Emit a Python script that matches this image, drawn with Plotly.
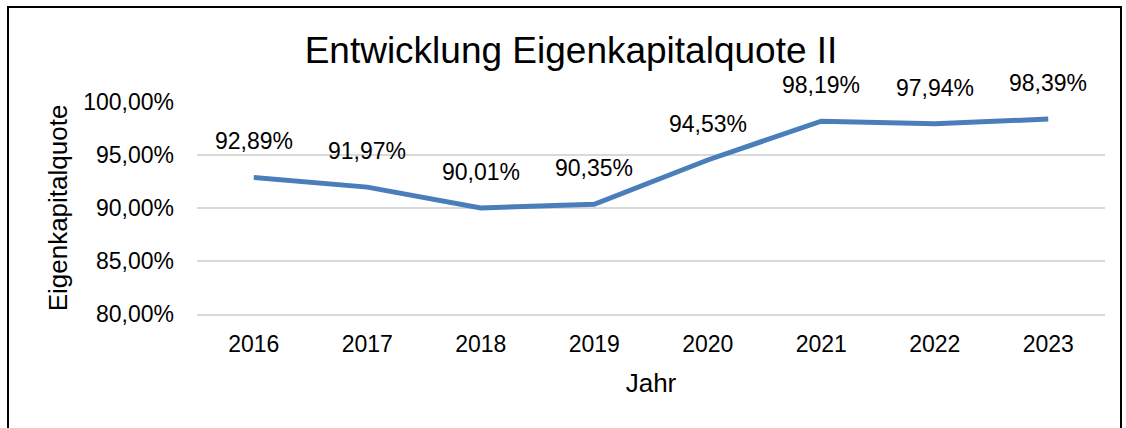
import plotly.graph_objects as go

years = ["2016", "2017", "2018", "2019", "2020", "2021", "2022", "2023"]
quote = [92.89, 91.97, 90.01, 90.35, 94.53, 98.19, 97.94, 98.39]
y_ticks = [80, 85, 90, 95, 100]
y_tick_text = ["80,00%", "85,00%", "90,00%", "95,00%", "100,00%"]
labels = [f"{v:.2f}%".replace(".", ",") for v in quote]

FONT = "Liberation Sans, Arial, sans-serif"
W, H = 1126, 428
L, R, T, B = 197, 21, 102, 114
pw, ph = W - L - R, H - T - B

fig = go.Figure()
fig.add_trace(go.Scatter(
    x=years, y=quote, mode="lines",
    line=dict(color="#4a7ebb", width=5),
    hoverinfo="skip", showlegend=False, cliponaxis=False,
))

for i, (y, t) in enumerate(zip(quote, labels)):
    fig.add_annotation(x=i, y=y, text=t, showarrow=False, yshift=36,
                       font=dict(size=23, color="#000000", family=FONT))

# chart frame
fig.add_shape(type="rect", xref="paper", yref="paper",
              x0=(8 - L) / pw, x1=(1121 - L) / pw,
              y0=(H - B - 440) / ph, y1=(H - B - 7) / ph,
              line=dict(color="#000000", width=2), fillcolor="rgba(0,0,0,0)")

fig.update_layout(
    width=W, height=H,
    margin=dict(l=L, r=R, t=T, b=B, autoexpand=False),
    paper_bgcolor="white", plot_bgcolor="white",
    font=dict(family=FONT, color="#000000"),
    title=dict(text="Entwicklung Eigenkapitalquote II", xref="container", x=571 / W,
               xanchor="center", yref="container", y=1 - 50 / H, yanchor="middle",
               font=dict(size=37, color="#000000", family=FONT)),
    xaxis=dict(type="category", range=[-0.5, 7.5], showgrid=False, zeroline=False,
               showline=True, linecolor="#d9d9d9", linewidth=1.5,
               ticks="", tickfont=dict(size=23),
               ticklabelstandoff=9,
               title=dict(text="Jahr", font=dict(size=26), standoff=17)),
    yaxis=dict(range=[80, 100], tickvals=y_ticks, ticktext=y_tick_text,
               showgrid=True, gridcolor="#d9d9d9", gridwidth=1.5, zeroline=False,
               showline=False, ticks="", tickfont=dict(size=23),
               ticklabelstandoff=22,
               title=dict(text="Eigenkapitalquote", font=dict(size=26), standoff=8)),
)

fig.write_html("out.html", config={"displayModeBar": False, "staticPlot": True},
               post_script="document.body.style.margin='0';")
